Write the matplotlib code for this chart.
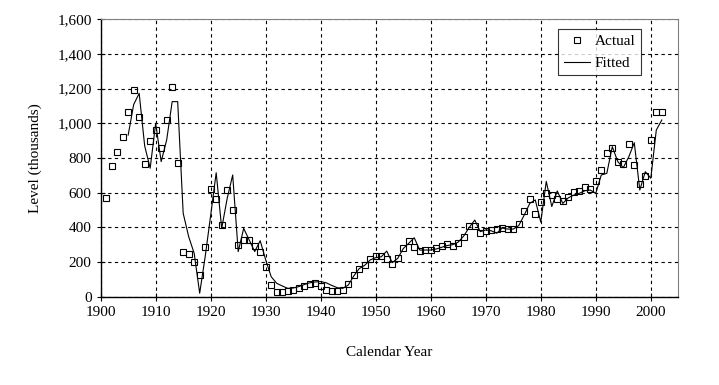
import numpy as np
import matplotlib
matplotlib.use("Agg")
import matplotlib.pyplot as plt

plt.rcParams['font.family'] = ['Liberation Serif', 'DejaVu Serif']

# actual observed levels (thousands), one per calendar year
actual_years = list(range(1901, 2003))
actual_vals = [
    571, 756, 836, 921, 1067, 1194, 1038, 767, 898, 963,      # 1901-1910
    859, 1019, 1211, 773, 258, 245, 202, 127, 288, 619,       # 1911-1920
    562, 413, 617, 502, 300, 325, 325, 294, 260, 169,         # 1921-1930
    70, 28, 28, 35, 37, 48, 60, 76, 77, 64,                   # 1931-1940
    41, 32, 32, 37, 74, 125, 162, 181, 219, 233,              # 1941-1950
    235, 219, 189, 221, 283, 323, 288, 262, 267, 271,         # 1951-1960
    278, 292, 302, 292, 310, 344, 408, 408, 369, 377,         # 1961-1970
    383, 390, 396, 390, 390, 421, 496, 563, 479, 548,         # 1971-1980
    600, 588, 562, 550, 577, 606, 611, 634, 623, 669,         # 1981-1990
    732, 830, 859, 779, 767, 882, 761, 652, 698, 905,         # 1991-2000
    1067, 1067,                                               # 2001-2002
]

# fitted model values
fitted_years = list(range(1905, 2003))
fitted_vals = [
    932, 1108, 1173, 870, 741, 1000,                          # 1905-1910
    779, 904, 1125, 1125, 481, 346, 250, 20, 231, 470,        # 1911-1920
    715, 394, 567, 702, 260, 394, 327, 260, 323, 212,         # 1921-1930
    115, 77, 62, 48, 50, 58, 70, 80, 85, 87,                  # 1931-1940
    80, 65, 52, 48, 67, 119, 162, 181, 212, 225,              # 1941-1950
    230, 263, 196, 221, 277, 308, 340, 269, 269, 269,         # 1951-1960
    275, 285, 295, 300, 315, 350, 400, 442, 375, 385,         # 1961-1970
    380, 366, 396, 390, 390, 410, 471, 538, 558, 430,         # 1971-1980
    665, 520, 610, 538, 570, 586, 596, 611, 615, 596,         # 1981-1990
    702, 711, 865, 779, 744, 807, 888, 615, 721, 683,         # 1991-2000
    961, 1019,                                                # 2001-2002
]

fig = plt.figure(figsize=(7.19, 3.85), dpi=100)
ax = fig.add_axes([0.140, 0.2294, 0.8034, 0.7205])

ax.plot(fitted_years, fitted_vals, color='black', lw=0.8, label='Fitted', zorder=3)
ax.plot(actual_years, actual_vals, linestyle='none', marker='s', ms=4.2,
        mfc='none', mec='black', mew=0.8, label='Actual', zorder=4)

ax.set_xlim(1900, 2005)
ax.set_ylim(0, 1600)
ax.set_xticks(np.arange(1900, 2001, 10))
ax.set_yticks(np.arange(0, 1601, 200))
ax.yaxis.set_major_formatter(matplotlib.ticker.StrMethodFormatter('{x:,.0f}'))
ax.grid(True, color='black', linestyle=(0, (3, 3)), lw=0.8)
ax.set_axisbelow(True)
ax.tick_params(direction='inout', length=6, width=0.8, labelsize=11, colors='black')

for s in ['top', 'right']:
    ax.spines[s].set_color('#808080')
    ax.spines[s].set_linewidth(0.8)
for s in ['left', 'bottom']:
    ax.spines[s].set_linewidth(1.0)

ax.set_xlabel('Calendar Year', fontsize=11, labelpad=20)
ax.set_ylabel('Level (thousands)', fontsize=11, labelpad=11)

h, l = ax.get_legend_handles_labels()
leg = ax.legend(h[::-1], l[::-1], loc='upper right', bbox_to_anchor=(0.9354, 0.965),
                borderaxespad=0, frameon=True, fancybox=False, edgecolor='black',
                fontsize=11, handlelength=1.7, handletextpad=0.35,
                borderpad=0.35, labelspacing=0.55)
leg.get_frame().set_linewidth(0.8)

fig.savefig('out.png', dpi=100)
